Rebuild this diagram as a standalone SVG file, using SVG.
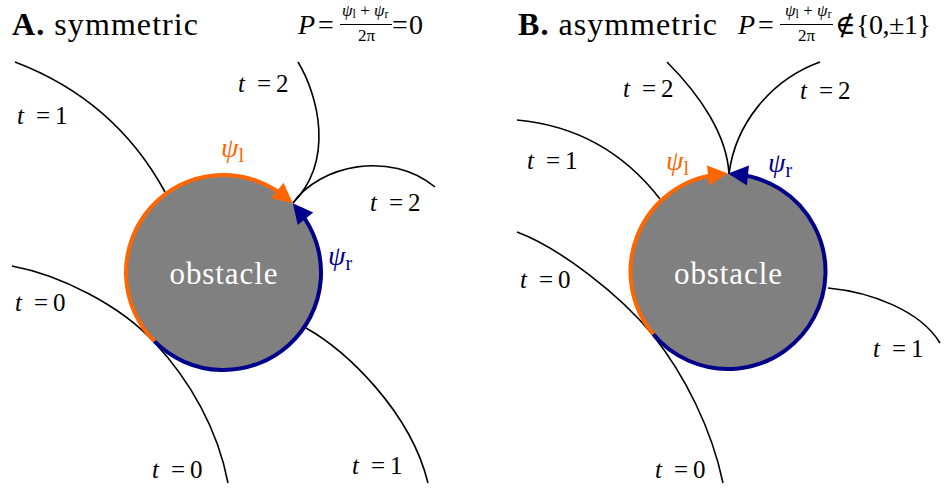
<svg xmlns="http://www.w3.org/2000/svg" width="945" height="489" viewBox="0 0 945 489">
<style>
text { font-family: "Liberation Serif", "DejaVu Serif", serif; fill: #000; }
.title { font-size: 32px; }
.math { font-size: 28px; }
.num { font-size: 17px; }
.sub { font-size: 12px; }
.t { font-size: 25px; }
.it { font-style: italic; }
.psi { font-size: 28px; }
.psisub { font-size: 20px; }
.orange { fill: #FF6600; }
.blue { fill: #00008B; }
.obs { font-size: 31px; fill: #FFFFFF; text-anchor: middle; }
.disc { fill: #808080; stroke: none; }
.traj { fill: none; stroke: #000; stroke-width: 1.6; }
.arcO { fill: none; stroke: #FF6600; stroke-width: 4; }
.arcB { fill: none; stroke: #00008B; stroke-width: 4; }
.bar { stroke: #000; stroke-width: 1; }
</style>
<defs>
<marker id="ahO" markerUnits="userSpaceOnUse" markerWidth="20" markerHeight="20" viewBox="0 0 20 20" refX="10" refY="10" orient="auto" overflow="visible">
<path d="M0,0 L20,10 L0,20 z" fill="#FF6600"/>
</marker>
<marker id="ahB" markerUnits="userSpaceOnUse" markerWidth="20" markerHeight="20" viewBox="0 0 20 20" refX="10" refY="10" orient="auto" overflow="visible">
<path d="M0,0 L20,10 L0,20 z" fill="#00008B"/>
</marker>
</defs>

<!-- Panel A -->
<g id="titleA">
<text class="title" x="12" y="35" textLength="186"><tspan font-weight="bold">A.</tspan> symmetric</text>
</g>
<g id="formulaA">
<text class="math it" x="298" y="34">P</text>
<text class="math" x="318" y="34">=</text>
<text class="num" x="342" y="16"><tspan class="it">ψ</tspan><tspan class="sub" dy="2">l</tspan><tspan dy="-2"> + </tspan><tspan class="it">ψ</tspan><tspan class="sub" dy="2">r</tspan></text>
<line class="bar" x1="340" y1="24.5" x2="392" y2="24.5"/>
<text class="num" x="358" y="41" font-size="18">2π</text>
<text class="math" x="392" y="34">=</text>
<text class="math" x="409" y="34">0</text>
</g>

<g id="connectorsA">
<path class="traj" d="M15,62 Q115,100 165,192"/>
<path class="traj" d="M298,62 C318,95 335,160 293,203"/>
<path class="traj" d="M293,203 C320,165 390,150 435,187"/>
<path class="traj" d="M12,266 C60,275 120,305 154,342 C190,380 218,430 228,483"/>
<path class="traj" d="M306,328 C345,350 410,410 428,483"/>
</g>

<g id="obstacleA">
<circle class="disc" cx="223.5" cy="272.5" r="97.5"/>
<path class="arcO" d="M154.56,341.44 A97.5,97.5 0 0 1 285.01,196.84" marker-end="url(#ahO)"/>
<path class="arcB" d="M154.56,341.44 A97.5,97.5 0 0 0 299.16,210.99" marker-end="url(#ahB)"/>
<text class="obs" x="223.5" y="284" textLength="108">obstacle</text>
</g>

<g id="labelsA">
<text class="psi orange" x="221" y="157"><tspan class="it">ψ</tspan><tspan class="psisub" dy="5">l</tspan></text>
<text class="psi blue" x="328" y="265"><tspan class="it">ψ</tspan><tspan class="psisub" dy="5">r</tspan></text>
<text class="t" x="17" y="124"><tspan class="it">t</tspan><tspan x="36">=</tspan><tspan x="55">1</tspan></text>
<text class="t" x="238" y="92"><tspan class="it">t</tspan><tspan x="257">=</tspan><tspan x="276">2</tspan></text>
<text class="t" x="370" y="211"><tspan class="it">t</tspan><tspan x="389">=</tspan><tspan x="408">2</tspan></text>
<text class="t" x="15" y="311"><tspan class="it">t</tspan><tspan x="34">=</tspan><tspan x="53">0</tspan></text>
<text class="t" x="152" y="478"><tspan class="it">t</tspan><tspan x="171">=</tspan><tspan x="190">0</tspan></text>
<text class="t" x="352" y="474"><tspan class="it">t</tspan><tspan x="371">=</tspan><tspan x="390">1</tspan></text>
</g>

<!-- Panel B -->
<g id="titleB">
<text class="title" x="518" y="35" textLength="199"><tspan font-weight="bold">B.</tspan> asymmetric</text>
</g>
<g id="formulaB">
<text class="math it" x="738" y="34">P</text>
<text class="math" x="758" y="34">=</text>
<text class="num" x="785" y="16"><tspan class="it">ψ</tspan><tspan class="sub" dy="2">l</tspan><tspan dy="-2"> + </tspan><tspan class="it">ψ</tspan><tspan class="sub" dy="2">r</tspan></text>
<line class="bar" x1="780" y1="24.5" x2="833" y2="24.5"/>
<text class="num" x="798" y="41" font-size="18">2π</text>
<text class="math" x="835" y="34">∉</text>
<text class="math" x="856" y="34" textLength="75">{0,±1}</text>
</g>

<g id="connectorsB">
<path class="traj" d="M517,120 Q605,128 660,199"/>
<path class="traj" d="M667,62 C700,95 727,135 729,174"/>
<path class="traj" d="M729,174 C735,125 770,80 820,62"/>
<path class="traj" d="M517,232 C560,248 620,295 652,334 C685,375 712,430 723,483"/>
<path class="traj" d="M828,288 C870,292 920,310 940,343"/>
</g>

<g id="obstacleB">
<circle class="disc" cx="728" cy="271.5" r="97.5"/>
<path class="arcO" d="M653.31,334.17 A97.5,97.5 0 0 1 718.01,174.51" marker-end="url(#ahO)"/>
<path class="arcB" d="M653.31,334.17 A97.5,97.5 0 1 0 737.99,174.51" marker-end="url(#ahB)"/>
<text class="obs" x="728" y="284" textLength="108">obstacle</text>
</g>

<g id="labelsB">
<text class="psi orange" x="666" y="170"><tspan class="it">ψ</tspan><tspan class="psisub" dy="5">l</tspan></text>
<text class="psi blue" x="768" y="172"><tspan class="it">ψ</tspan><tspan class="psisub" dy="5">r</tspan></text>
<text class="t" x="623" y="97"><tspan class="it">t</tspan><tspan x="642">=</tspan><tspan x="661">2</tspan></text>
<text class="t" x="800" y="99"><tspan class="it">t</tspan><tspan x="819">=</tspan><tspan x="838">2</tspan></text>
<text class="t" x="527" y="169"><tspan class="it">t</tspan><tspan x="546">=</tspan><tspan x="565">1</tspan></text>
<text class="t" x="520" y="288"><tspan class="it">t</tspan><tspan x="539">=</tspan><tspan x="558">0</tspan></text>
<text class="t" x="655" y="478"><tspan class="it">t</tspan><tspan x="674">=</tspan><tspan x="693">0</tspan></text>
<text class="t" x="873" y="357"><tspan class="it">t</tspan><tspan x="892">=</tspan><tspan x="911">1</tspan></text>
</g>
</svg>
